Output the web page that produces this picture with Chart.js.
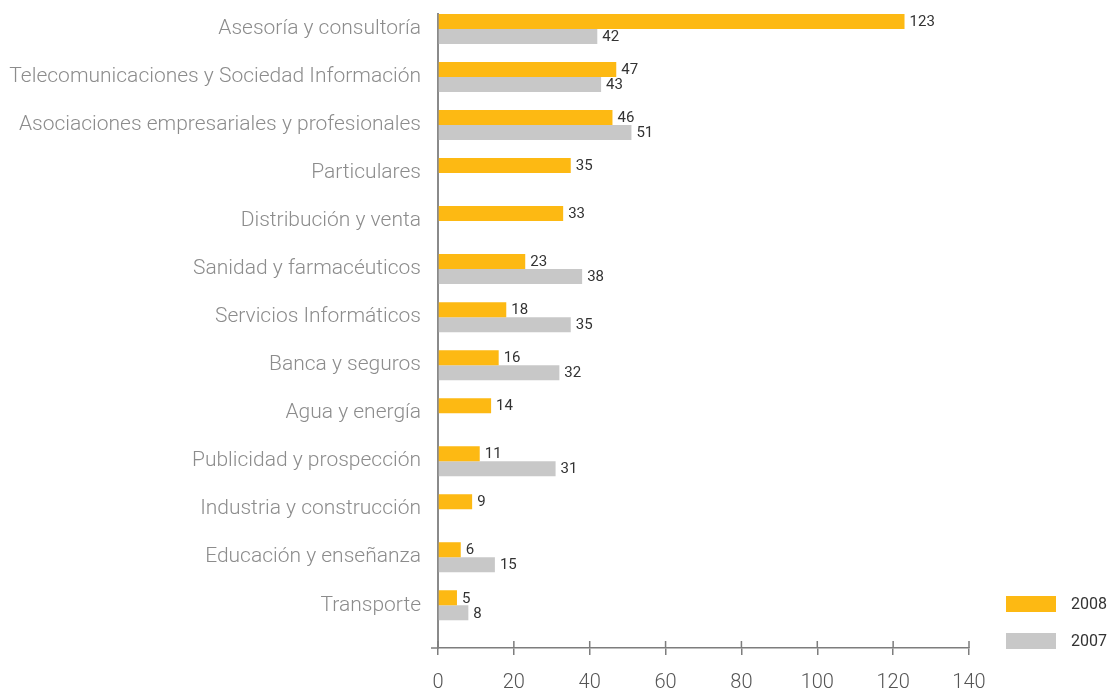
<!DOCTYPE html>
<html>
<head>
<meta charset="utf-8">
<script src="https://cdn.jsdelivr.net/npm/chart.js@4.4.1/dist/chart.umd.min.js"></script>
<style>
  html, body { margin: 0; padding: 0; background: #fff; }
  #wrap { width: 1112px; height: 692px; }
</style>
</head>
<body>
<div id="wrap"><canvas id="chart" width="1112" height="692"></canvas></div>
<script>
const categories = [
    "Asesoría y consultoría",
    "Telecomunicaciones y Sociedad Información",
    "Asociaciones empresariales y profesionales",
    "Particulares",
    "Distribución y venta",
    "Sanidad y farmacéuticos",
    "Servicios Informáticos",
    "Banca y seguros",
    "Agua y energía",
    "Publicidad y prospección",
    "Industria y construcción",
    "Educación y enseñanza",
    "Transporte"
];
const values2008 = [123, 47, 46, 35, 33, 23, 18, 16, 14, 11, 9, 6, 5];
const values2007 = [42, 43, 51, null, null, 38, 35, 32, null, 31, null, 15, 8];
const seriesNames = ["2008", "2007"];
const xTicks = [0, 20, 40, 60, 80, 100, 120, 140];

const ORANGE = "#fdb913";
const GREY = "#c8c8c8";
const AXIS = "#7d7d7d";

function toPoints(values) {
    return values
        .map((v, i) => (v === null ? null : { x: v, y: i }))
        .filter(p => p !== null);
}

// value labels at the end of each bar
const valueLabels = {
    id: "valueLabels",
    afterDatasetsDraw(chart) {
        const ctx = chart.ctx;
        ctx.save();
        ctx.font = "15px Roboto";
        ctx.fillStyle = "#333";
        ctx.textBaseline = "middle";
        ctx.textAlign = "left";
        chart.data.datasets.forEach((ds, di) => {
            const meta = chart.getDatasetMeta(di);
            meta.data.forEach((bar, j) => {
                ctx.fillText(String(ds.data[j].x), bar.x + 5, bar.y + 1);
            });
        });
        ctx.restore();
    }
};

// tick marks crossing the x axis + short stub left of the y axis
const axisMarks = {
    id: "axisMarks",
    afterDraw(chart) {
        const ctx = chart.ctx;
        const x = chart.scales.x;
        const area = chart.chartArea;
        ctx.save();
        ctx.strokeStyle = AXIS;
        ctx.lineWidth = 1.5;
        ctx.beginPath();
        xTicks.forEach(t => {
            const px = x.getPixelForValue(t);
            ctx.moveTo(px, area.bottom - 7);
            ctx.lineTo(px, area.bottom);
        });
        ctx.moveTo(area.left - 7, area.bottom);
        ctx.lineTo(area.left, area.bottom);
        ctx.stroke();
        ctx.restore();
    }
};

// legend drawn at the lower right
const sideLegend = {
    id: "sideLegend",
    afterDraw(chart) {
        const ctx = chart.ctx;
        ctx.save();
        ctx.font = "16px Roboto";
        ctx.textBaseline = "middle";
        chart.data.datasets.forEach((ds, i) => {
            const top = 596 + i * 37;
            ctx.fillStyle = ds.backgroundColor;
            ctx.fillRect(1006, top, 50, 16);
            ctx.fillStyle = "#333";
            ctx.fillText(ds.label, 1071, top + 8.5);
        });
        ctx.restore();
    }
};

new Chart(document.getElementById("chart"), {
    type: "bar",
    data: {
        datasets: [
            {
                label: seriesNames[0],
                data: toPoints(values2008),
                backgroundColor: ORANGE
            },
            {
                label: seriesNames[1],
                data: toPoints(values2007),
                backgroundColor: GREY
            }
        ]
    },
    options: {
        indexAxis: "y",
        responsive: false,
        animation: false,
        categoryPercentage: 0.625,
        barPercentage: 1,
        layout: {
            padding: { top: 14, right: 143, left: 0, bottom: 0 }
        },
        plugins: {
            legend: { display: false },
            tooltip: { enabled: false }
        },
        scales: {
            x: {
                type: "linear",
                min: 0,
                max: 140,
                afterBuildTicks: scale => {
                    scale.ticks = xTicks.map(v => ({ value: v }));
                },
                afterFit: scale => {
                    scale.height = 44;
                },
                grid: {
                    drawOnChartArea: false,
                    drawTicks: true,
                    tickLength: 7,
                    color: AXIS,
                    lineWidth: 1.5
                },
                border: { color: AXIS, width: 1.5 },
                ticks: {
                    padding: 16,
                    color: "#555",
                    font: { family: "Roboto", size: 20, weight: "300" }
                }
            },
            y: {
                type: "linear",
                reverse: true,
                offset: false,
                min: -0.3125,
                max: 12.89,
                afterBuildTicks: scale => {
                    scale.ticks = categories.map((c, i) => ({ value: i }));
                },
                afterFit: scale => {
                    scale.width = 438;
                    scale.paddingTop = 0;
                    scale.paddingBottom = 0;
                },
                grid: { display: false, drawTicks: false },
                border: { color: "#8a8a8a", width: 2 },
                ticks: {
                    padding: 17,
                    color: "#8c8c8c",
                    autoSkip: false,
                    font: { family: "Roboto", size: 21, weight: "300" },
                    callback: v => categories[v]
                }
            }
        }
    },
    plugins: [valueLabels, axisMarks, sideLegend]
});
</script>
</body>
</html>
